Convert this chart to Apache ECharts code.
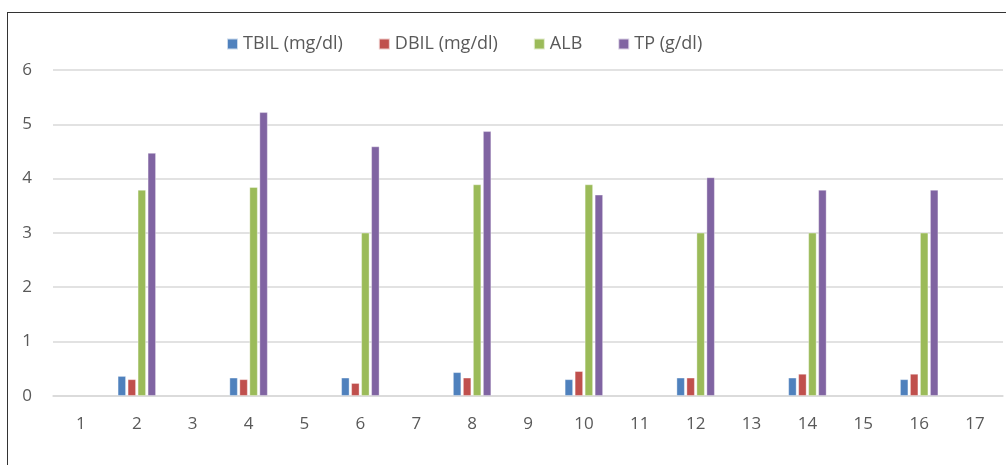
<!DOCTYPE html>
<html>
<head>
<meta charset="utf-8">
<script src="https://cdn.jsdelivr.net/npm/echarts@6/dist/echarts.min.js"></script>
<style>
html,body{margin:0;padding:0;background:#fff;}
#wrap{position:relative;width:1006px;height:465px;overflow:hidden;}
#frame{position:absolute;left:7px;top:12px;width:1100px;height:500px;border-top:1.5px solid #333;border-left:1.5px solid #333;box-sizing:border-box;}
#chart{position:absolute;left:0;top:0;width:1006px;height:465px;}
</style>
</head>
<body>
<div id="wrap"><div id="frame"></div><div id="chart"></div></div>
<script>
const categories = ['1','2','3','4','5','6','7','8','9','10','11','12','13','14','15','16','17'];
const seriesNames = ['TBIL (mg/dl)', 'DBIL (mg/dl)', 'ALB', 'TP (g/dl)'];
const tbil = [null,0.36,null,0.33,null,0.33,null,0.43,null,0.30,null,0.33,null,0.33,null,0.30,null];
const dbil = [null,0.30,null,0.30,null,0.23,null,0.33,null,0.45,null,0.33,null,0.40,null,0.40,null];
const alb  = [null,3.79,null,3.84,null,3.00,null,3.89,null,3.89,null,3.00,null,3.00,null,3.00,null];
const tp   = [null,4.47,null,5.22,null,4.59,null,4.87,null,3.70,null,4.02,null,3.79,null,3.79,null];
const yTicks = [0,1,2,3,4,5,6];

const colors = ['#4F81BD','#C0504D','#9BBB59','#8064A2'];
const dataSets = [tbil, dbil, alb, tp];
const chart = echarts.init(document.getElementById('chart'), null, {renderer:'canvas'});
const font = "'Open Sans', sans-serif";
chart.setOption({
  animation:false,
  color: colors,
  legend:{
    data: seriesNames,
    left: 221, top: 30,
    itemWidth: 11, itemHeight: 11, itemGap: 35,
    icon: 'rect',
    textStyle:{fontFamily:font, fontSize:18, color:'#595959'}
  },
  grid:{left:53, right:3, top:70, bottom:69.3, containLabel:false},
  xAxis:{
    type:'category', data: categories,
    axisLine:{lineStyle:{color:'#d9d9d9', width:1.5}},
    axisTick:{show:false},
    axisLabel:{fontFamily:font, fontSize:17, color:'#595959', margin:20}
  },
  yAxis:{
    type:'value', min: yTicks[0], max: yTicks[yTicks.length-1], interval:1,
    axisLine:{show:false}, axisTick:{show:false},
    axisLabel:{fontFamily:font, fontSize:17, color:'#595959', margin:21},
    splitLine:{lineStyle:{color:'#d9d9d9', width:1.5}}
  },
  series: seriesNames.map((n,i)=>({
    name:n, type:'bar', data: dataSets[i],
    barWidth: 8, barGap:'25%',
    itemStyle:{color:colors[i], borderColor:'rgba(255,255,255,0.7)', borderWidth:0.5}
  }))
});
</script>
</body>
</html>
